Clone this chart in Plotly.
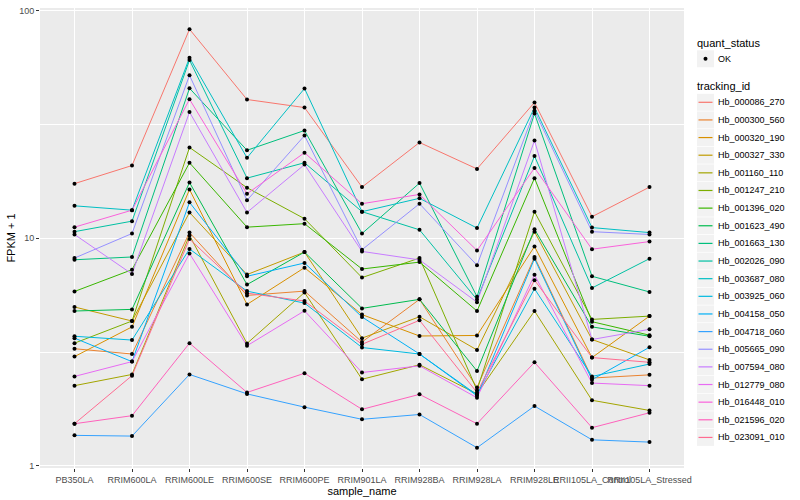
import plotly.graph_objects as go

samples = ["PB350LA", "RRIM600LA", "RRIM600LE", "RRIM600SE", "RRIM600PE", "RRIM901LA",
           "RRIM928BA", "RRIM928LA", "RRIM928LE", "RRII105LA_Control", "RRII105LA_Stressed"]

tracking_ids = ["Hb_000086_270", "Hb_000300_560", "Hb_000320_190", "Hb_000327_330", "Hb_001160_110",
                "Hb_001247_210", "Hb_001396_020", "Hb_001623_490", "Hb_001663_130", "Hb_002026_090",
                "Hb_003687_080", "Hb_003925_060", "Hb_004158_050", "Hb_004718_060", "Hb_005665_090",
                "Hb_007594_080", "Hb_012779_080", "Hb_016448_010", "Hb_021596_020", "Hb_023091_010"]

colors = ["#F8766D", "#EA8331", "#D89000", "#C09B00", "#A3A500", "#7CAE00", "#39B600", "#00BB4E",
          "#00BF7D", "#00C1A3", "#00BFC4", "#00BAE0", "#00B0F6", "#35A2FF", "#9590FF", "#C77CFF",
          "#E76BF3", "#FA62DB", "#FF62BC", "#FF6C91"]

# FPKM + 1 per tracking id, in sample order
Hb_000086_270 = [17.4, 20.9, 83.1, 40.8, 37.6, 16.8, 26.4, 20.2, 39.6, 12.45, 16.8]
Hb_000300_560 = [3.27, 3.10, 10.6, 5.61, 5.86, 3.50, 5.39, 2.21, 8.27, 2.43, 2.51]
Hb_000320_190 = [3.02, 4.08, 16.4, 5.12, 7.43, 4.62, 3.72, 3.74, 9.21, 2.99, 4.55]
Hb_000327_330 = [4.99, 4.33, 13.0, 6.93, 8.70, 3.64, 4.52, 3.23, 10.7, 3.59, 2.92]
Hb_001160_110 = [2.25, 2.52, 10.3, 3.45, 5.78, 2.40, 2.78, 2.07, 4.79, 1.94, 1.75]
Hb_001247_210 = [3.46, 4.33, 25.1, 16.7, 12.2, 6.72, 8.19, 2.15, 13.1, 4.40, 4.55]
Hb_001396_020 = [5.84, 7.28, 21.5, 11.2, 11.6, 7.33, 7.86, 4.79, 18.4, 4.30, 3.75]
Hb_001623_490 = [4.79, 4.87, 17.6, 6.26, 8.70, 4.92, 5.39, 2.61, 10.96, 4.08, 3.71]
Hb_001663_130 = [8.05, 8.28, 45.7, 24.4, 29.8, 10.5, 17.5, 5.54, 35.4, 6.81, 5.81]
Hb_002026_090 = [10.7, 11.9, 60.8, 18.4, 21.5, 13.1, 10.9, 5.38, 23.0, 6.05, 8.14]
Hb_003687_080 = [13.9, 13.3, 62.3, 22.6, 45.6, 13.1, 15.0, 11.1, 37.6, 11.15, 10.6]
Hb_003925_060 = [3.71, 3.57, 8.98, 5.86, 5.19, 3.31, 3.10, 2.05, 6.00, 2.47, 2.80]
Hb_004158_050 = [3.64, 2.87, 14.4, 6.81, 7.79, 4.51, 3.10, 2.03, 8.14, 2.39, 3.32]
Hb_004718_060 = [1.36, 1.35, 2.52, 2.07, 1.81, 1.60, 1.68, 1.20, 1.83, 1.30, 1.27]
Hb_005665_090 = [8.19, 10.5, 52.1, 14.7, 28.3, 8.91, 14.2, 7.61, 36.4, 10.7, 10.4]
Hb_007594_080 = [10.4, 6.97, 35.9, 13.0, 21.1, 8.76, 8.04, 5.24, 26.9, 3.59, 3.98]
Hb_012779_080 = [2.47, 2.87, 8.58, 3.37, 4.80, 2.57, 2.75, 1.99, 6.91, 2.31, 2.25]
Hb_016448_010 = [11.2, 13.3, 40.9, 15.7, 23.8, 14.2, 15.6, 8.84, 20.4, 8.96, 9.68]
Hb_021596_020 = [1.53, 1.66, 3.46, 2.10, 2.55, 1.77, 2.06, 1.53, 2.85, 1.47, 1.71]
Hb_023091_010 = [1.53, 2.49, 9.93, 5.74, 5.30, 3.42, 4.36, 2.10, 6.55, 2.99, 2.85]

series = [Hb_000086_270, Hb_000300_560, Hb_000320_190, Hb_000327_330, Hb_001160_110,
          Hb_001247_210, Hb_001396_020, Hb_001623_490, Hb_001663_130, Hb_002026_090,
          Hb_003687_080, Hb_003925_060, Hb_004158_050, Hb_004718_060, Hb_005665_090,
          Hb_007594_080, Hb_012779_080, Hb_016448_010, Hb_021596_020, Hb_023091_010]

FONT = "Liberation Sans"
W, H = 800, 500
ML, MR, MT, MB = 40, 116, 6, 32
PW, PH = W - ML - MR, H - MT - MB

def px(xp):
    return (xp - ML) / PW

def py(yp):
    return (H - MB - yp) / PH

fig = go.Figure()

for i, (tid, vals) in enumerate(zip(tracking_ids, series)):
    fig.add_trace(go.Scatter(x=samples, y=vals, mode="lines", name=tid,
                             line=dict(color=colors[i], width=1), hoverinfo="skip"))

all_x, all_y = [], []
for vals in series:
    all_x += samples
    all_y += vals
fig.add_trace(go.Scatter(x=all_x, y=all_y, mode="markers", name="OK",
                         marker=dict(color="black", size=4)))

# ---- ggplot-style legend drawn in paper coordinates ----
shapes, annos = [], []
KX0, KX1 = 697, 714          # key box left/right (px)
TX = 716                     # legend text left (px)
KH = 17

def key_box(cy):
    shapes.append(dict(type="rect", xref="paper", yref="paper",
                       x0=px(KX0), x1=px(KX1), y0=py(cy + KH / 2), y1=py(cy - KH / 2),
                       fillcolor="#F2F2F2", line=dict(width=0), layer="below"))

def label(text, xp, yp, size):
    annos.append(dict(text=text, xref="paper", yref="paper", x=px(xp), y=py(yp),
                      xanchor="left", yanchor="middle", showarrow=False,
                      font=dict(size=size, family=FONT, color="black")))

label("quant_status", 695, 41, 11)
key_box(57)
shapes.append(dict(type="circle", xref="paper", yref="paper",
                   x0=px(703.5), x1=px(707.5), y0=py(59), y1=py(55),
                   fillcolor="black", line=dict(width=0)))
label("OK", TX, 57, 9)

label("tracking_id", 695, 84, 11)
step = (437.3 - 100.7) / (len(tracking_ids) - 1)
for i, tid in enumerate(tracking_ids):
    cy = 100.7 + i * step
    key_box(cy)
    shapes.append(dict(type="line", xref="paper", yref="paper",
                       x0=px(KX0 + 1.5), x1=px(KX1 - 1.5), y0=py(cy), y1=py(cy),
                       line=dict(color=colors[i], width=1.2)))
    label(tid, TX, cy, 9)

fig.update_layout(
    width=W, height=H,
    margin=dict(l=ML, r=MR, t=MT, b=MB),
    paper_bgcolor="white", plot_bgcolor="#EBEBEB",
    font=dict(family=FONT, color="#000000"),
    showlegend=False,
    shapes=shapes, annotations=annos,
)
fig.update_xaxes(type="category", range=[-0.6, 10.6], showgrid=True, gridcolor="white", gridwidth=1.1,
                 zeroline=False, showline=False, ticks="outside", ticklen=3, tickcolor="#333333",
                 tickangle=0,
                 tickfont=dict(size=9, color="#4D4D4D", family=FONT),
                 title=dict(text="sample_name", font=dict(size=11, family=FONT), standoff=2))
fig.update_yaxes(type="log", range=[-0.010, 2.013], showgrid=True, gridcolor="white", gridwidth=1.1,
                 tickvals=[1, 10, 100], ticktext=["1", "10", "100"],
                 zeroline=False, showline=False, ticks="outside", ticklen=3, tickcolor="#333333",
                 tickfont=dict(size=9, color="#4D4D4D", family=FONT),
                 minor=dict(tickvals=[10 ** 0.5, 10 ** 1.5], showgrid=True, gridcolor="white",
                            gridwidth=0.55, ticks=""),
                 title=dict(text="FPKM + 1", font=dict(size=11, family=FONT), standoff=1))

fig.write_html("out.html", config={"displayModeBar": False},
               post_script="document.body.style.margin='0px';document.body.style.overflow='hidden';")
